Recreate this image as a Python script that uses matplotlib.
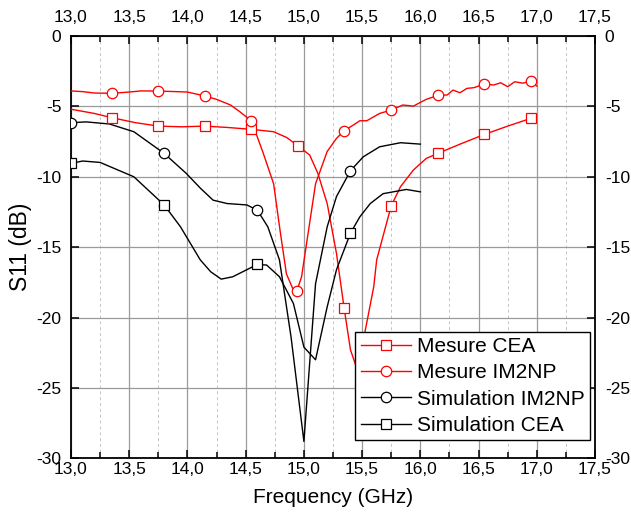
import numpy as np
import matplotlib
matplotlib.use("Agg")
import matplotlib.pyplot as plt
from matplotlib.lines import Line2D
from matplotlib.ticker import MultipleLocator, FuncFormatter

plt.rcParams['font.family'] = ['Liberation Sans', 'DejaVu Sans']
plt.rcParams['axes.unicode_minus'] = False

# Mesure IM2NP (red, circles)
f_mes_im2np = [13.0, 13.1, 13.2, 13.35, 13.5, 13.6, 13.75, 13.9, 14.0, 14.15, 14.25, 14.37,
               14.45, 14.55, 14.65, 14.74, 14.795, 14.85, 14.91, 14.94, 14.98, 15.04, 15.1,
               15.2, 15.28, 15.345, 15.42, 15.48, 15.54, 15.65, 15.75, 15.85, 15.94, 16.05,
               16.15, 16.23, 16.28, 16.34, 16.4, 16.46, 16.55, 16.63, 16.69, 16.75, 16.81,
               16.88, 16.95, 17.0]
s_mes_im2np = [-3.9, -3.95, -4.05, -4.07, -3.98, -3.9, -3.91, -3.95, -3.98, -4.26, -4.5, -4.9,
               -5.38, -6.04, -8.3, -10.5, -13.8, -16.9, -18.05, -18.1, -17.1, -13.8, -10.5,
               -8.2, -7.27, -6.73, -6.35, -6.02, -6.02, -5.5, -5.26, -4.9, -4.98, -4.5,
               -4.22, -4.19, -3.84, -4.03, -3.72, -3.67, -3.41, -3.48, -3.32, -3.6, -3.25,
               -3.35, -3.2, -3.55]
mk_mes_im2np = [13.35, 13.75, 14.15, 14.55, 14.94, 15.345, 15.75, 16.15, 16.55, 16.95]

# Mesure CEA (red, squares)
f_mes_cea = [13.0, 13.2, 13.35, 13.55, 13.75, 13.95, 14.15, 14.35, 14.55, 14.74, 14.85, 14.95,
             15.05, 15.12, 15.2, 15.28, 15.345, 15.4, 15.45, 15.49, 15.525, 15.6, 15.625,
             15.75, 15.83, 15.94, 16.05, 16.15, 16.35, 16.55, 16.75, 16.95, 16.97]
s_mes_cea = [-5.2, -5.5, -5.8, -6.15, -6.4, -6.45, -6.4, -6.5, -6.63, -6.8, -7.2, -7.8,
             -8.46, -9.76, -11.9, -15.45, -19.3, -22.3, -23.5, -25.0, -21.0, -17.8, -15.9,
             -12.06, -10.7, -9.52, -8.7, -8.34, -7.65, -6.99, -6.4, -5.85, -5.82]
mk_mes_cea = [13.35, 13.75, 14.15, 14.55, 14.95, 15.345, 15.75, 16.15, 16.55, 16.95]

# Simulation IM2NP (black, circles)
f_sim_im2np = [13.0, 13.13, 13.33, 13.54, 13.8, 13.99, 14.11, 14.22, 14.34, 14.51, 14.6, 14.69,
               14.79, 14.89, 15.0, 15.1, 15.2, 15.28, 15.4, 15.51, 15.65, 15.83, 16.0]
s_sim_im2np = [-6.16, -6.1, -6.25, -6.8, -8.34, -9.76, -10.8, -11.66, -11.9, -12.0, -12.37, -13.55,
               -15.9, -21.4, -28.8, -17.6, -13.55, -11.4, -9.57, -8.58, -7.87, -7.58, -7.68]
mk_sim_im2np = [13.0, 13.8, 14.6, 15.4]

# Simulation CEA (black, squares)
f_sim_cea = [13.0, 13.1, 13.25, 13.54, 13.8, 13.94, 14.11, 14.2, 14.29, 14.39, 14.51, 14.6,
             14.68, 14.79, 14.91, 15.0, 15.1, 15.2, 15.28, 15.4, 15.48, 15.57, 15.68, 15.88, 16.0]
s_sim_cea = [-9.05, -8.88, -8.98, -10.0, -12.0, -13.55, -15.9, -16.75, -17.27, -17.1, -16.6, -16.23,
             -16.27, -17.1, -19.0, -22.1, -23.0, -19.24, -16.6, -14.0, -12.85, -11.9, -11.2, -10.9, -11.07]
mk_sim_cea = [13.0, 13.8, 14.6, 15.4]

series = [
    ("Mesure CEA", f_mes_cea, s_mes_cea, mk_mes_cea, "#ff0000", "s"),
    ("Mesure IM2NP", f_mes_im2np, s_mes_im2np, mk_mes_im2np, "#ff0000", "o"),
    ("Simulation IM2NP", f_sim_im2np, s_sim_im2np, mk_sim_im2np, "black", "o"),
    ("Simulation CEA", f_sim_cea, s_sim_cea, mk_sim_cea, "black", "s"),
]

fig = plt.figure(figsize=(6.31, 5.22), dpi=100)
ax = fig.add_axes([0.1125, 0.122, 0.8305, 0.809])

handles = []
for name, fx, sy, mk, col, m in series:
    fx = np.array(fx)
    sy = np.array(sy)
    sel = np.isin(fx, mk)
    ms = 7.5 if m == "o" else 7
    ax.plot(fx, sy, color=col, lw=1.0, zorder=3)
    ax.plot(fx[sel], sy[sel], ls="none", marker=m, ms=ms,
            mfc="white", mec=col, mew=0.9, zorder=4)
    handles.append(Line2D([], [], color=col, lw=1.0, marker=m, ms=ms,
                          mfc="white", mec=col, mew=0.9))

ax.set_xlim(13.0, 17.5)
ax.set_ylim(-30, 0)
ax.xaxis.set_major_locator(MultipleLocator(0.5))
ax.xaxis.set_minor_locator(MultipleLocator(0.25))
ax.yaxis.set_major_locator(MultipleLocator(5))
ax.xaxis.set_major_formatter(FuncFormatter(lambda v, p: f"{v:.1f}".replace(".", ",")))
ax.yaxis.set_major_formatter(FuncFormatter(lambda v, p: f"{v:.0f}"))

ax.grid(which="major", color="#9a9a9a", lw=0.9, ls="-", zorder=1)
ax.grid(which="minor", axis="x", color="#c4c4c4", lw=0.7, ls=(0, (3, 3)), zorder=1)

ax.tick_params(which="both", direction="in", top=True, right=True, width=1.1,
               labelsize=12.5, labeltop=True, labelright=True)
ax.tick_params(which="major", length=5.5)
ax.tick_params(which="minor", length=4.5)
ax.tick_params(axis="x", which="major", pad=8)
ax.tick_params(axis="y", pad=7)
# bottom labels sit closer to the spine than the top ones
for t in ax.xaxis.get_major_ticks():
    t.label1.set_verticalalignment("center")
for sp in ax.spines.values():
    sp.set_linewidth(1.3)

ax.set_xlabel("Frequency (GHz)", fontsize=15, labelpad=8)
ax.set_ylabel("S11 (dB)", fontsize=16.5, labelpad=3)

leg = ax.legend(handles, [s[0] for s in series], loc="lower right",
                bbox_to_anchor=(0.99, 0.043), borderaxespad=0, fontsize=15,
                handlelength=2.4, handletextpad=0.3, labelspacing=0.35,
                borderpad=0.25, fancybox=False, framealpha=1, edgecolor="black",
                numpoints=1)
leg.get_frame().set_linewidth(1.0)
leg.set_zorder(10)

fig.savefig("out.png", dpi=100)
